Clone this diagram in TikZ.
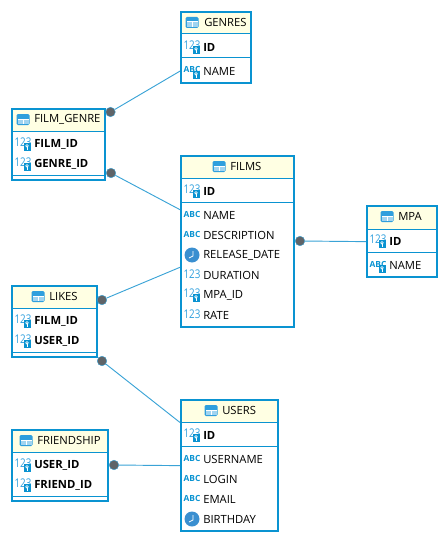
\documentclass[tikz,border=0pt]{standalone}
\usepackage{fontspec}
\setmainfont{Open Sans}
\definecolor{tableblue}{HTML}{0A93D1}
\definecolor{linkblue}{HTML}{3AA3D6}
\definecolor{iconblue}{HTML}{2F9FDD}
\definecolor{clockblue}{HTML}{3A8FD0}
\definecolor{headyellow}{HTML}{FFFFE3}
\definecolor{dotgray}{HTML}{5F6468}
\tikzset{
  tablebox/.style 2 args={draw=tableblue,line width=1.7pt,anchor=north west,inner sep=0pt,
    minimum width=#1*0.75pt,minimum height=#2*0.75pt},
  headbox/.style={draw=tableblue,line width=0.75pt,fill=headyellow},
  rowline/.style={draw=tableblue,line width=0.75pt},
  titletext/.style={anchor=west,inner sep=0pt,font=\fontsize{8.45}{11}\selectfont},
  fieldtext/.style={anchor=west,inner sep=0pt,font=\fontsize{8.45}{11}\selectfont},
  keytext/.style={fieldtext,font=\fontsize{8.45}{11}\selectfont\bfseries},
  reldot/.style={circle,fill=dotgray,draw=linkblue,line width=0.3pt,inner sep=0pt,minimum size=7.2pt},
  rel/.style={draw=linkblue,line width=0.7pt},
  tableicon/.pic={
    \fill[iconblue,rounded corners=1pt] (-6.5,-5.5) rectangle (6.5,5.5);
    \fill[white] (-5.5,-1) rectangle (5.5,0);
    \fill[white] (-0.5,-1) rectangle (0.5,4.5);
    \fill[white!55!iconblue] (-5.5,0) rectangle (-0.5,4.5);
    \fill[white!55!iconblue] (0.5,0) rectangle (5.5,4.5);
  },
  keybadge/.pic={
    \fill[tableblue] (-3.5,-4) rectangle (3.5,4);
    \draw[white,line width=0.5pt] (0,-1.2) circle (1.3);
    \draw[white,line width=0.5pt] (0,0) -- (0,2.8);
  },
  num/.pic={
    \node[inner sep=0pt,text=iconblue,font=\fontsize{9}{9}\selectfont] (numtext) at (0,0) {\scalebox{0.82}[1]{123}};
  },
  numkey/.pic={
    \node[inner sep=0pt,text=iconblue,font=\fontsize{9}{9}\selectfont] (numtext) at (0,-1) {\scalebox{0.82}[1]{123}};
    \pic at (4,4) {keybadge};
  },
  abc/.pic={
    \node[inner sep=0pt,text=tableblue,font=\fontsize{6.3}{7}\selectfont\bfseries] (abctext) at (0,0) {ABC};
  },
  abckey/.pic={
    \node[inner sep=0pt,text=tableblue,font=\fontsize{6.3}{7}\selectfont\bfseries] (abctext) at (0,-1) {ABC};
    \pic at (4,4) {keybadge};
  },
  clock/.pic={
    \fill[clockblue] (0,0) circle (7.5);
    \draw[white,line width=0.6pt] (1,-4) -- (1,1) -- (-3,3);
  },
}
\begin{document}
\begin{tikzpicture}[x=0.75pt,y=-0.75pt]
    \useasboundingbox (0,0) rectangle (448,542);
    % GENRES
    \draw[headbox] (181,12) rectangle (250,34);
    \node[tablebox={70}{71}] (genres) at (180,11) {};
    \pic at (192,22.5) {tableicon};
    \node[titletext] (genrestitle) at (204,22.5) {GENRES};
    \draw[rowline] (181,58) -- (250,58);
    \pic at (192,46) {numkey}; \node[keytext] (genresid) at (203,47) {ID};
    \pic at (192,71) {abckey}; \node[fieldtext] (genresname) at (203,71) {NAME};
    %
    % FILM_GENRE
    \draw[headbox] (12,109) rectangle (104,131);
    \node[tablebox={93}{71}] (filmgenre) at (11,108) {};
    \pic at (23,119.5) {tableicon};
    \node[titletext] (filmgenretitle) at (34,119.5) {FILM\_GENRE};
    \draw[rowline] (12,175) -- (104,175);
    \pic at (23,143) {numkey}; \node[keytext] (filmgenrefilm) at (34,144) {FILM\_ID};
    \pic at (23,163) {numkey}; \node[keytext] (filmgenregenre) at (34,164) {GENRE\_ID};
    %
    % FILMS
    \draw[headbox] (181,156) rectangle (293,178);
    \node[tablebox={113}{171}] (films) at (180,155) {};
    \pic at (219,166.5) {tableicon};
    \node[titletext] (filmstitle) at (230,166.5) {FILMS};
    \draw[rowline] (181,202) -- (293,202);
    \pic at (192,190) {numkey}; \node[keytext] (filmsid) at (203,191) {ID};
    \pic at (192,214.5) {abc}; \node[fieldtext] (filmsname) at (203,215) {NAME};
    \pic at (192,234.5) {abc}; \node[fieldtext] (filmsdesc) at (203,235) {DESCRIPTION};
    \pic at (192,255) {clock}; \node[fieldtext] (filmsdate) at (203,255) {RELEASE\_DATE};
    \pic at (192,274.5) {num}; \node[fieldtext] (filmsdur) at (203,275) {DURATION};
    \pic at (192,294) {numkey}; \node[fieldtext] (filmsmpa) at (203,295) {MPA\_ID};
    \pic at (192,314.5) {num}; \node[fieldtext] (filmsrate) at (203,315) {RATE};
    %
    % MPA
    \draw[headbox] (367,206) rectangle (436,229);
    \node[tablebox={70}{71}] (mpa) at (366,205) {};
    \pic at (387,216.5) {tableicon};
    \node[titletext] (mpatitle) at (398,216.5) {MPA};
    \draw[rowline] (367,252) -- (436,252);
    \pic at (378,240) {numkey}; \node[keytext] (mpaid) at (389,241) {ID};
    \pic at (378,265) {abckey}; \node[fieldtext] (mpaname) at (389,265) {NAME};
    %
    % LIKES
    \draw[headbox] (12,286) rectangle (96,308);
    \node[tablebox={85}{71}] (likes) at (11,285) {};
    \pic at (38,296.5) {tableicon};
    \node[titletext] (likestitle) at (49,296.5) {LIKES};
    \draw[rowline] (12,352) -- (96,352);
    \pic at (23,320) {numkey}; \node[keytext] (likesfilm) at (34,321) {FILM\_ID};
    \pic at (23,340) {numkey}; \node[keytext] (likesuser) at (34,341) {USER\_ID};
    %
    % FRIENDSHIP
    \draw[headbox] (12,430) rectangle (107,452);
    \node[tablebox={96}{71}] (friendship) at (11,429) {};
    \pic at (26,440.5) {tableicon};
    \node[titletext] (friendshiptitle) at (37,440.5) {FRIENDSHIP};
    \draw[rowline] (12,496) -- (107,496);
    \pic at (23,464) {numkey}; \node[keytext] (friendshipuser) at (34,465) {USER\_ID};
    \pic at (23,484) {numkey}; \node[keytext] (friendshipfriend) at (34,485) {FRIEND\_ID};
    %
    % USERS
    \draw[headbox] (181,400) rectangle (277,422);
    \node[tablebox={97}{131}] (users) at (180,399) {};
    \pic at (211,410.5) {tableicon};
    \node[titletext] (userstitle) at (222,410.5) {USERS};
    \draw[rowline] (181,446) -- (277,446);
    \pic at (192,434) {numkey}; \node[keytext] (usersid) at (203,435) {ID};
    \pic at (192,458.5) {abc}; \node[fieldtext] (usersname) at (203,459) {USERNAME};
    \pic at (192,478.5) {abc}; \node[fieldtext] (userslogin) at (203,479) {LOGIN};
    \pic at (192,498.5) {abc}; \node[fieldtext] (usersemail) at (203,499) {EMAIL};
    \pic at (192,519) {clock}; \node[fieldtext] (usersbirth) at (203,519) {BIRTHDAY};
    %
    % relations
    \node[reldot] (dotgenres) at (110.5,112) {};
    \node[reldot] (dotfilms) at (111,173) {};
    \node[reldot] (dotmpa) at (300,241) {};
    \node[reldot] (dotlikes) at (102,300) {};
    \node[reldot] (dotusers) at (102,361) {};
    \node[reldot] (dotfriend) at (114,465) {};
    \draw[rel] (dotgenres) -- (genres.213);
    \draw[rel] (dotfilms) -- (films.151);
    \draw[rel] (dotmpa) -- (mpa.west);
    \draw[rel] (dotlikes) -- (films.204.5);
    \draw[rel] (dotusers) -- (users.139.5);
    \draw[rel] (dotfriend) -- (users.west);
\end{tikzpicture}
\end{document}
